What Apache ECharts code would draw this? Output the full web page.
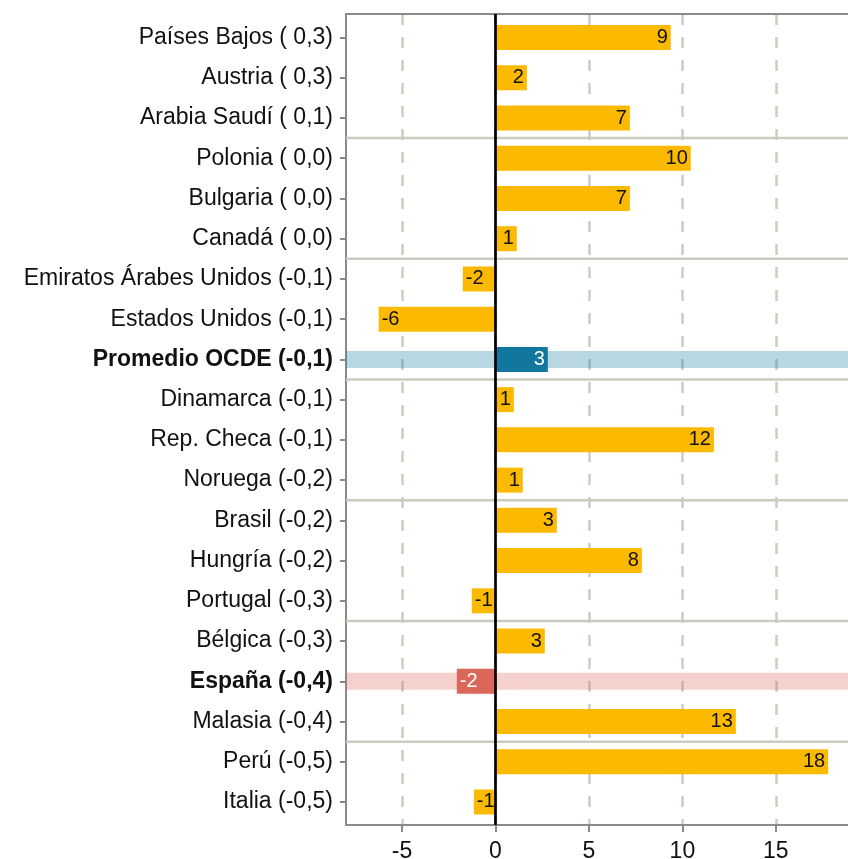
<!DOCTYPE html>
<html>
<head>
<meta charset="utf-8">
<script src="https://cdn.jsdelivr.net/npm/echarts@6/dist/echarts.min.js"></script>
<style>
html,body{margin:0;padding:0;background:#fff;}
#chart{width:848px;height:859px;}
</style>
</head>
<body>
<div id="chart"></div>
<script>
const categories = [
  'Países Bajos ( 0,3)', 'Austria ( 0,3)', 'Arabia Saudí ( 0,1)',
  'Polonia ( 0,0)', 'Bulgaria ( 0,0)', 'Canadá ( 0,0)',
  'Emiratos Árabes Unidos (-0,1)', 'Estados Unidos (-0,1)', 'Promedio OCDE (-0,1)',
  'Dinamarca (-0,1)', 'Rep. Checa (-0,1)', 'Noruega (-0,2)',
  'Brasil (-0,2)', 'Hungría (-0,2)', 'Portugal (-0,3)',
  'Bélgica (-0,3)', 'España (-0,4)', 'Malasia (-0,4)',
  'Perú (-0,5)', 'Italia (-0,5)'
];
const values = [
  9.38, 1.68, 7.19,
  10.45, 7.19, 1.14,
  -1.75, -6.25, 2.80,
  0.98, 11.69, 1.46,
  3.28, 7.83, -1.27,
  2.64, -2.07, 12.86,
  17.8, -1.16
];
const highlightOECD = 'Promedio OCDE (-0,1)';
const highlightSpain = 'España (-0,4)';
const xTicks = [-5, 0, 5, 10, 15];
const xMin = -8;
const xMax = 19.2;
// rows after which a group separator is drawn
const separatorAfter = [2, 5, 8, 11, 14, 17];

const FONT = '"Liberation Sans", Arial, Helvetica, sans-serif';
const YELLOW = '#fbba00';
const TEAL = '#11779f';
const RED = '#da6759';
const FRAME = '#8a8a8a';
const GRIDC = '#cbcbbf';
const BAND = {};
BAND[highlightOECD] = 'rgba(17,119,159,0.29)';
BAND[highlightSpain] = 'rgba(218,103,89,0.30)';
const BAR_COLOR = {};
BAR_COLOR[highlightOECD] = TEAL;
BAR_COLOR[highlightSpain] = RED;

const barData = values.map((v, i) => {
  const c = categories[i];
  const special = BAR_COLOR[c];
  return {
    value: v,
    itemStyle: { color: special || YELLOW },
    label: {
      position: v < 0 ? 'insideLeft' : 'insideRight',
      color: special ? '#ffffff' : '#111111'
    }
  };
});

const bandCats = [highlightOECD, highlightSpain];
const bandData = bandCats.map(c => [0, categories.indexOf(c)]);
const sepData = separatorAfter.map(i => [0, i]);

const LEFT = 346, WIDTH = 508.3;

const chart = echarts.init(document.getElementById('chart'), null, { renderer: 'canvas' });
chart.setOption({
  animation: false,
  backgroundColor: '#ffffff',
  grid: [
    { left: LEFT, width: WIDTH, top: 14, bottom: 34, show: false, outerBoundsMode: 'none', containLabel: false },
    { left: LEFT, width: WIDTH, top: 17.4, bottom: 36.9, show: false, outerBoundsMode: 'none', containLabel: false }
  ],
  xAxis: [
    {
      gridIndex: 0, type: 'value', min: xMin, max: xMax, position: 'bottom',
      axisLine: { show: true, onZero: false, lineStyle: { color: FRAME, width: 2 } },
      axisTick: { show: true, length: 7, customValues: xTicks, lineStyle: { color: FRAME, width: 2 } },
      axisLabel: { customValues: xTicks, fontFamily: FONT, fontSize: 23, color: '#111111', margin: 15 },
      splitLine: { show: true, lineStyle: { color: GRIDC, width: 2.5, type: [11, 12] } }
    },
    {
      gridIndex: 0, type: 'value', min: xMin, max: xMax, position: 'top',
      axisLine: { show: true, onZero: false, lineStyle: { color: FRAME, width: 2 } },
      axisTick: { show: false }, axisLabel: { show: false }, splitLine: { show: false }
    },
    {
      gridIndex: 1, type: 'value', min: xMin, max: xMax, show: false
    }
  ],
  yAxis: [
    {
      gridIndex: 0, type: 'value', min: 0, max: 1, position: 'left',
      axisLine: { show: true, onZero: false, lineStyle: { color: FRAME, width: 2 } },
      axisTick: { show: false }, axisLabel: { show: false }, splitLine: { show: false }
    },
    {
      gridIndex: 1, type: 'category', inverse: true, position: 'left',
      data: categories.map(c => ({
        value: c,
        textStyle: (c === highlightOECD || c === highlightSpain) ? { fontWeight: 'bold' } : {}
      })),
      axisLine: { show: false, onZero: false },
      axisTick: { show: true, alignWithLabel: true, length: 6, lineStyle: { color: FRAME, width: 2 } },
      axisLabel: { fontFamily: FONT, fontSize: 23, color: '#111111', margin: 13 },
      splitLine: { show: false }
    }
  ],
  series: [
    {
      // group separators
      type: 'custom', xAxisIndex: 2, yAxisIndex: 1, z: 1, silent: true,
      encode: { x: 0, y: 1 },
      data: sepData,
      renderItem: function (params, api) {
        const pt = api.coord([0, api.value(1)]);
        const band = api.size([0, 1])[1];
        const cs = params.coordSys;
        const y = pt[1] + band / 2;
        return {
          type: 'line',
          shape: { x1: cs.x, y1: y, x2: cs.x + cs.width, y2: y },
          style: { stroke: GRIDC, lineWidth: 2.5 }
        };
      }
    },
    {
      // highlight bands
      type: 'custom', xAxisIndex: 2, yAxisIndex: 1, z: 2, silent: true,
      encode: { x: 0, y: 1 },
      data: bandData,
      renderItem: function (params, api) {
        const pt = api.coord([0, api.value(1)]);
        const cs = params.coordSys;
        const h = 17;
        return {
          type: 'rect',
          shape: { x: cs.x, y: pt[1] - h / 2, width: cs.width, height: h },
          style: { fill: BAND[bandCats[params.dataIndex]] }
        };
      }
    },
    {
      type: 'bar', xAxisIndex: 2, yAxisIndex: 1, z: 3,
      barWidth: 25,
      data: barData,
      label: {
        show: true,
        distance: 3,
        fontFamily: FONT,
        fontSize: 20,
        formatter: p => String(Math.round(p.value))
      }
    },
    {
      // zero reference line across the full panel
      type: 'custom', xAxisIndex: 0, yAxisIndex: 0, z: 5, silent: true,
      encode: { x: 0, y: 1 },
      data: [[0, 0]],
      renderItem: function (params, api) {
        const pt = api.coord([0, 0]);
        const cs = params.coordSys;
        return {
          type: 'line',
          shape: { x1: pt[0], y1: cs.y, x2: pt[0], y2: cs.y + cs.height },
          style: { stroke: '#000000', lineWidth: 2.7 }
        };
      }
    }
  ]
});
</script>
</body>
</html>
